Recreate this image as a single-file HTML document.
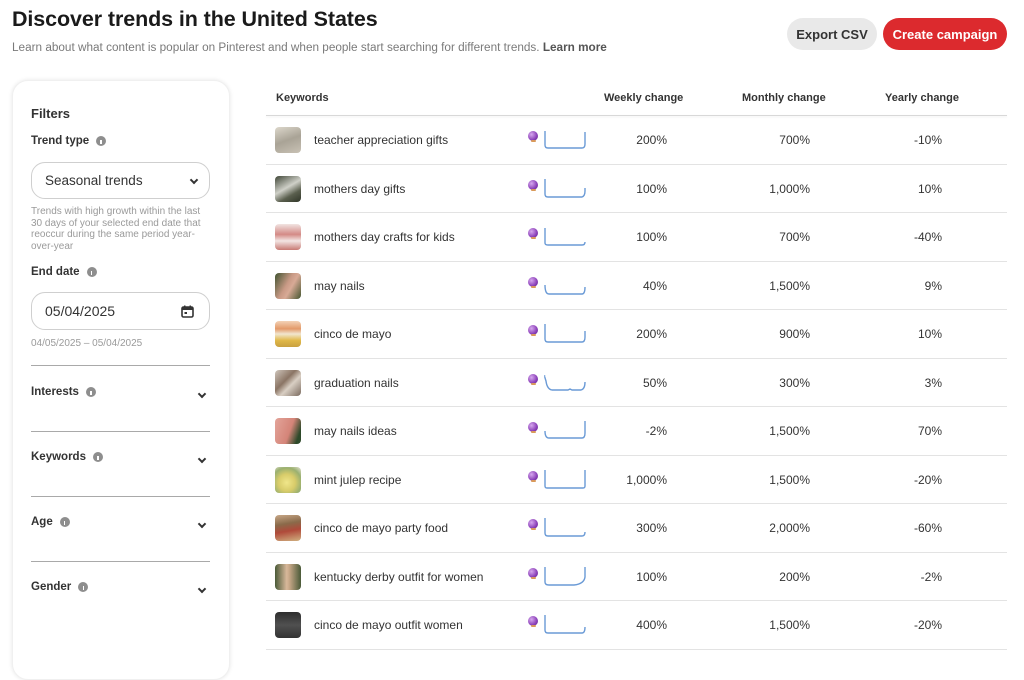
<!DOCTYPE html>
<html><head><meta charset="utf-8"><style>
*{margin:0;padding:0;box-sizing:border-box}
html,body{width:1024px;height:650px;overflow:hidden;background:#fff;font-family:"Liberation Sans",Arial,sans-serif;color:#333}
.abs{position:absolute}
h1{position:absolute;left:12px;top:7px;font-size:21.5px;font-weight:bold;color:#1a1a1a;letter-spacing:-0.1px}
.sub{position:absolute;left:12px;top:41px;font-size:11.75px;color:#7a7a7a;white-space:nowrap}
.sub b{color:#555}
.btn{position:absolute;top:18px;height:32px;border-radius:16px;font-size:13px;font-weight:bold;display:flex;align-items:center;justify-content:center}
.card{position:absolute;left:12px;top:80px;width:218px;height:600px;border-radius:16px;background:#fff;box-shadow:0 0 4px rgba(0,0,0,0.10);border:1px solid #f0f0f0}
.lbl{position:absolute;left:31px;font-size:11.5px;font-weight:bold;color:#333;display:flex;align-items:center}
.info{display:inline-block;width:10px;height:10px;border-radius:50%;background:#8e8e8e;margin-left:7px;position:relative}
.info:after{content:"";position:absolute;left:4.3px;top:3.5px;width:1.4px;height:4px;background:#fff}
.box{position:absolute;left:31px;width:179px;border:1.5px solid #cfcfcf;border-radius:14px;font-size:13.5px;color:#333;padding-left:13px;display:flex;align-items:center}
.chev{position:absolute;width:6px;height:6px;border-right:2px solid #333;border-bottom:2px solid #333;transform:rotate(45deg)}
.desc{position:absolute;left:31px;width:176px;font-size:10px;line-height:11.5px;color:#9a9a9a}
.div{position:absolute;left:31px;width:179px;height:1px;background:#a9a9a9}
.th{position:absolute;top:92px;font-size:11px;font-weight:bold;color:#333}
.hline{position:absolute;left:266px;top:115px;width:741px;height:1px;background:#d8d8d8;box-shadow:0 1px 2px rgba(0,0,0,0.08)}
.row{position:absolute;left:266px;width:741px;height:48.5px;border-bottom:1px solid #e3e3e3}
.thumb{position:absolute;left:9px;top:11px;width:26px;height:26px;border-radius:4px}
.kw{position:absolute;left:48px;top:17px;font-size:12px;color:#333;white-space:nowrap}
.orb{position:absolute;left:262px;top:15px;width:10px;height:10px;border-radius:50%;background:radial-gradient(circle at 35% 35%,#d7a8ef,#8a3fb8 60%,#5e2a85)}
.orb:after{content:"";position:absolute;left:2.5px;top:9px;width:5px;height:2px;border-radius:1px;background:#d99a5a}
.spark{position:absolute;left:277px;top:13px}
.v{position:absolute;top:17px;font-size:12px;color:#333;text-align:right;width:80px}
</style></head><body>
<h1>Discover trends in the United States</h1>
<div class="sub">Learn about what content is popular on Pinterest and when people start searching for different trends. <b>Learn more</b></div>
<div class="btn" style="left:787px;width:90px;background:#e9e9e9;color:#333">Export CSV</div>
<div class="btn" style="left:883px;width:124px;background:#dc2a2e;color:#fff">Create campaign</div>

<div class="card"></div>
<div class="lbl" style="top:106px;font-size:13px">Filters</div>
<div class="lbl" style="top:135px">Trend type<span class="info"></span></div>
<div class="box" style="top:162px;height:37px">Seasonal trends</div>
<div class="chev" style="left:191px;top:177px"></div>
<div class="desc" style="top:206px">Trends with high growth within the last<br>30 days of your selected end date that<br>reoccur during the same period year-<br>over-year</div>
<div class="lbl" style="top:266px">End date<span class="info"></span></div>
<div class="box" style="top:292px;height:38px;font-size:14px">05/04/2025</div>
<svg class="abs" style="left:181px;top:305px" width="13" height="13" viewBox="0 0 13 13"><rect x="1" y="2" width="11" height="10" rx="1.5" fill="none" stroke="#333" stroke-width="1.6"/><rect x="1" y="2" width="11" height="3" fill="#333"/><rect x="3" y="0.5" width="1.5" height="3" fill="#333"/><rect x="8.5" y="0.5" width="1.5" height="3" fill="#333"/><rect x="3.5" y="7" width="2.5" height="2" fill="#333"/></svg>
<div class="desc" style="top:338px">04/05/2025 – 05/04/2025</div>
<div class="div" style="top:365px"></div>
<div class="lbl" style="top:386px">Interests<span class="info"></span></div>
<div class="chev" style="left:199px;top:391px"></div>
<div class="div" style="top:431px"></div>
<div class="lbl" style="top:451px">Keywords<span class="info"></span></div>
<div class="chev" style="left:199px;top:456px"></div>
<div class="div" style="top:496px"></div>
<div class="lbl" style="top:516px">Age<span class="info"></span></div>
<div class="chev" style="left:199px;top:521px"></div>
<div class="div" style="top:561px"></div>
<div class="lbl" style="top:581px">Gender<span class="info"></span></div>
<div class="chev" style="left:199px;top:586px"></div>

<div class="th" style="left:276px">Keywords</div>
<div class="th" style="left:604px">Weekly change</div>
<div class="th" style="left:742px">Monthly change</div>
<div class="th" style="left:885px">Yearly change</div>
<div class="hline"></div>

<div class="row" style="top:116px"><div class="thumb" style="background:linear-gradient(160deg,#ddd8cc,#a9a396 50%,#c9c2b5)"></div><div class="kw">teacher appreciation gifts</div><div class="orb"></div><svg class="spark" width="44" height="22" viewBox="-1 -1 44 22"><path d="M1,1 L1,15 Q1,18 4,18 L38,18 Q41,18 41,14 L41,2" fill="none" stroke="#6a9ad6" stroke-width="1.4"/></svg><div class="v" style="left:321px">200%</div><div class="v" style="left:464px">700%</div><div class="v" style="left:596px">-10%</div></div>
<div class="row" style="top:164.5px"><div class="thumb" style="background:linear-gradient(150deg,#3e4536,#cfd0c8 45%,#5a5f4e 70%,#2f3528)"></div><div class="kw">mothers day gifts</div><div class="orb"></div><svg class="spark" width="44" height="22" viewBox="-1 -1 44 22"><path d="M1,0 L1,15 Q1,18 4,18 L38,18 Q41,17 41,12 L41,9" fill="none" stroke="#6a9ad6" stroke-width="1.4"/></svg><div class="v" style="left:321px">100%</div><div class="v" style="left:464px">1,000%</div><div class="v" style="left:596px">10%</div></div>
<div class="row" style="top:213px"><div class="thumb" style="background:linear-gradient(180deg,#f1e4e2,#d48a86 40%,#f3e6e4 65%,#c87a74)"></div><div class="kw">mothers day crafts for kids</div><div class="orb"></div><svg class="spark" width="44" height="22" viewBox="-1 -1 44 22"><path d="M1,1 L1,16 Q1,18 4,18 L38,18 Q41,18 41,15" fill="none" stroke="#6a9ad6" stroke-width="1.4"/></svg><div class="v" style="left:321px">100%</div><div class="v" style="left:464px">700%</div><div class="v" style="left:596px">-40%</div></div>
<div class="row" style="top:261.5px"><div class="thumb" style="background:linear-gradient(120deg,#3f5230,#c99a86 45%,#d8aa96 60%,#44552f)"></div><div class="kw">may nails</div><div class="orb"></div><svg class="spark" width="44" height="22" viewBox="-1 -1 44 22"><path d="M1,9 Q1,18 5,18 L38,18 Q41,18 41,11" fill="none" stroke="#6a9ad6" stroke-width="1.4"/></svg><div class="v" style="left:321px">40%</div><div class="v" style="left:464px">1,500%</div><div class="v" style="left:596px">9%</div></div>
<div class="row" style="top:310px"><div class="thumb" style="background:linear-gradient(180deg,#f3d2b6,#e39a6a 30%,#f1e6cf 50%,#e0b848 75%,#c8a040)"></div><div class="kw">cinco de mayo</div><div class="orb"></div><svg class="spark" width="44" height="22" viewBox="-1 -1 44 22"><path d="M1,0 L1,15 Q1,18 4,18 L38,18 Q41,18 41,13 L41,7" fill="none" stroke="#6a9ad6" stroke-width="1.4"/></svg><div class="v" style="left:321px">200%</div><div class="v" style="left:464px">900%</div><div class="v" style="left:596px">10%</div></div>
<div class="row" style="top:358.5px"><div class="thumb" style="background:linear-gradient(135deg,#cfc6bc,#8a7464 40%,#d9cfc4 60%,#7a6a5e)"></div><div class="kw">graduation nails</div><div class="orb"></div><svg class="spark" width="44" height="22" viewBox="-1 -1 44 22"><path d="M1,3 Q0,2 2,8 Q3,16 8,17 L24,17 L26,16 L28,17 L37,17 Q41,16 41,9" fill="none" stroke="#6a9ad6" stroke-width="1.4"/></svg><div class="v" style="left:321px">50%</div><div class="v" style="left:464px">300%</div><div class="v" style="left:596px">3%</div></div>
<div class="row" style="top:407px"><div class="thumb" style="background:linear-gradient(110deg,#e3a49a,#d48478 55%,#2e4a2a 85%)"></div><div class="kw">may nails ideas</div><div class="orb"></div><svg class="spark" width="44" height="22" viewBox="-1 -1 44 22"><path d="M1,10 Q1,17 5,17 L38,17 Q41,17 41,12 L41,0" fill="none" stroke="#6a9ad6" stroke-width="1.4"/></svg><div class="v" style="left:321px">-2%</div><div class="v" style="left:464px">1,500%</div><div class="v" style="left:596px">70%</div></div>
<div class="row" style="top:455.5px"><div class="thumb" style="background:radial-gradient(circle at 45% 60%,#f0e68a,#d8cc6a 40%,#9ab070 70%,#e8e4d8)"></div><div class="kw">mint julep recipe</div><div class="orb"></div><svg class="spark" width="44" height="22" viewBox="-1 -1 44 22"><path d="M1,0 L1,16 Q1,18 3,18 L39,18 Q41,18 41,16 L41,0" fill="none" stroke="#6a9ad6" stroke-width="1.4"/></svg><div class="v" style="left:321px">1,000%</div><div class="v" style="left:464px">1,500%</div><div class="v" style="left:596px">-20%</div></div>
<div class="row" style="top:504px"><div class="thumb" style="background:linear-gradient(170deg,#c8a888,#8a6a4a 35%,#b04a3a 60%,#d0b080)"></div><div class="kw">cinco de mayo party food</div><div class="orb"></div><svg class="spark" width="44" height="22" viewBox="-1 -1 44 22"><path d="M1,0 L1,15 Q1,18 4,18 L38,18 Q41,18 41,14" fill="none" stroke="#6a9ad6" stroke-width="1.4"/></svg><div class="v" style="left:321px">300%</div><div class="v" style="left:464px">2,000%</div><div class="v" style="left:596px">-60%</div></div>
<div class="row" style="top:552.5px"><div class="thumb" style="background:linear-gradient(90deg,#4a5a38,#d8b89a 45%,#c8a888 55%,#4a5a38)"></div><div class="kw">kentucky derby outfit for women</div><div class="orb"></div><svg class="spark" width="44" height="22" viewBox="-1 -1 44 22"><path d="M1,0 L1,15 Q1,18 5,18 L30,18 Q40,17 41,10 L41,0" fill="none" stroke="#6a9ad6" stroke-width="1.4"/></svg><div class="v" style="left:321px">100%</div><div class="v" style="left:464px">200%</div><div class="v" style="left:596px">-2%</div></div>
<div class="row" style="top:601px"><div class="thumb" style="background:linear-gradient(180deg,#2e2e2e,#505050 50%,#333)"></div><div class="kw">cinco de mayo outfit women</div><div class="orb"></div><svg class="spark" width="44" height="22" viewBox="-1 -1 44 22"><path d="M1,0 L1,15 Q1,18 4,18 L38,18 Q41,18 41,12" fill="none" stroke="#6a9ad6" stroke-width="1.4"/></svg><div class="v" style="left:321px">400%</div><div class="v" style="left:464px">1,500%</div><div class="v" style="left:596px">-20%</div></div>
</body></html>
